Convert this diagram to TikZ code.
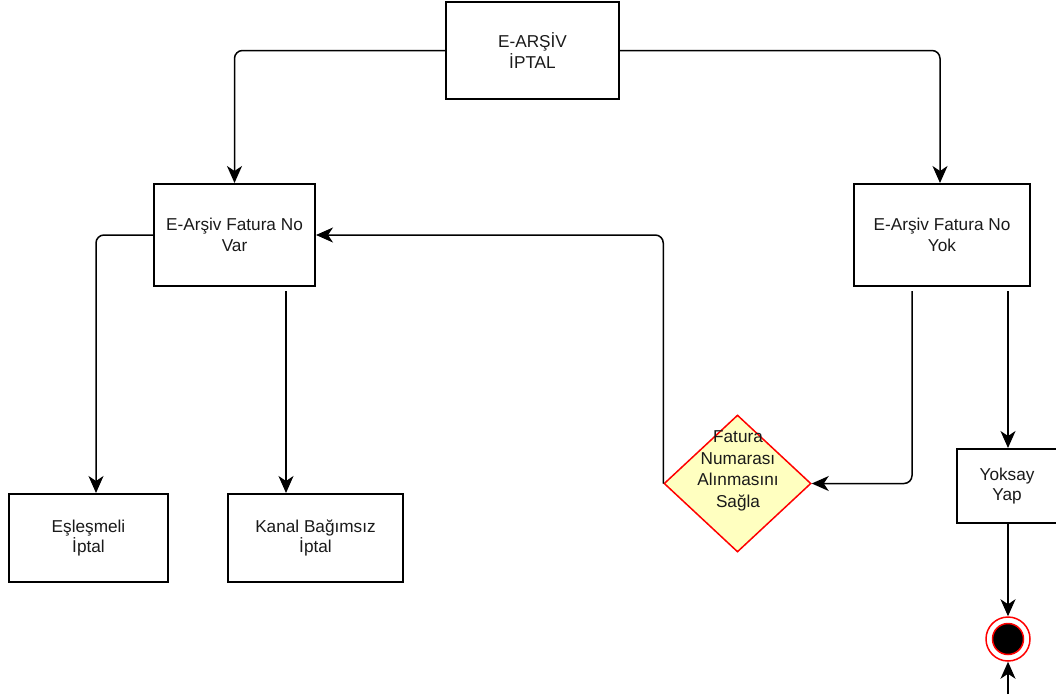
\documentclass[tikz,border=0pt]{standalone}
\usepackage{fontspec}
\setmainfont{Liberation Sans}
\usetikzlibrary{shapes.geometric,arrows.meta,calc}
\definecolor{txt}{HTML}{1A1A1A}
\definecolor{diafill}{HTML}{FFFFC0}
\begin{document}
\begin{tikzpicture}[x=1pt,y=-1pt,
  box/.style={draw=black, line width=2pt, fill=white, align=center, text=txt, inner sep=0pt,
    font=\fontsize{17.2}{20.5}\selectfont},
  conn/.style={draw=black, line width=1.5pt, -{Stealth[length=17pt,width=15pt,inset=5pt]}},
  roundbend/.style={rounded corners=8pt},
  lbl/.style={align=center, text=txt, font=\fontsize{17.2}{21.5}\selectfont}
]
\useasboundingbox (0,0) rectangle (1056,694);

\node[box, minimum width=173pt, minimum height=97pt] (top) at (532.5,50.5) {E-ARŞİV\\İPTAL};
\node[box, minimum width=161pt, minimum height=102pt] (var) at (234.5,235) {E-Arşiv Fatura No\\Var};
\node[box, minimum width=176pt, minimum height=102pt] (yok) at (942,235) {E-Arşiv Fatura No\\Yok};
\node[box, minimum width=159pt, minimum height=88pt] (esl) at (88.5,538) {Eşleşmeli\\İptal};
\node[box, minimum width=175pt, minimum height=88pt] (kanal) at (315.5,538) {Kanal Bağımsız\\İptal};
\node[box, minimum width=100pt, minimum height=74pt] (yoksay) at (1007,486) {Yoksay\\Yap};

\node[diamond, draw=red, line width=1.5pt, fill=diafill, minimum width=147pt, minimum height=137pt, inner sep=0pt] (dia) at (737.5,483.5) {};
\node[lbl] (diatext) at (738,471) {Fatura\\Numarası\\Alınmasını\\Sağla};

\node[circle, draw=red, line width=1.5pt, fill=white, minimum size=44pt, inner sep=0pt] (endc) at (1008,639) {};
\node[circle, draw=red, line width=1.5pt, fill=black, minimum size=31pt, inner sep=0pt] (endin) at (endc.center) {};

\coordinate (bot) at (1008,694);

\draw[conn] (top.west) [roundbend] -| (var.north) [sharp corners];
\draw[conn] (top.east) [roundbend] -| ([xshift=-2pt]yok.north) [sharp corners];
\draw[conn] (var.west) [roundbend] -| ([xshift=7.5pt]esl.north) [sharp corners];
\draw[conn] ([xshift=51.5pt,yshift=-4pt]var.south) -- ([xshift=51.5pt]var.south |- kanal.north);
\draw[conn] (dia.west) [roundbend] |- (var.east) [sharp corners];
\draw[conn] ([xshift=-30pt,yshift=-4pt]yok.south) [roundbend] |- (dia.east) [sharp corners];
\draw[conn] ([yshift=-4pt]endc.north |- yok.south) -- (endc.north |- yoksay.north);
\draw[conn] (endc.north |- yoksay.south) -- (endc.north);
\draw[conn] (bot) -- (endc.south);
\end{tikzpicture}
\end{document}
